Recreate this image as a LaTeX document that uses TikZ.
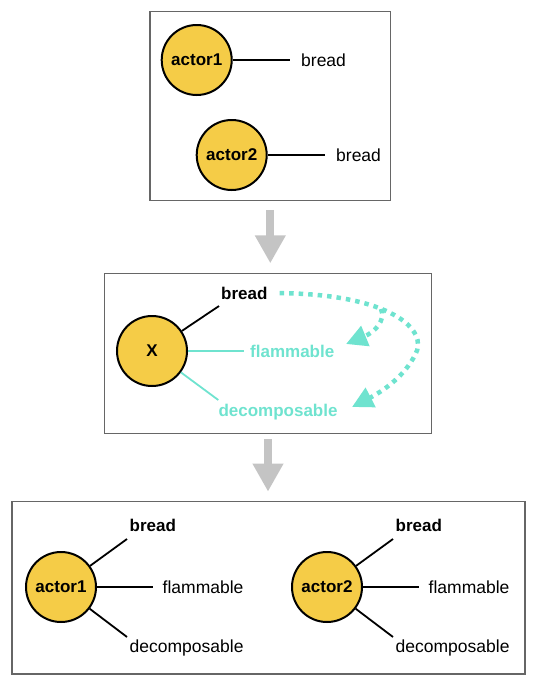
\documentclass[tikz,border=0pt]{standalone}
\usepackage{fontspec}
\setmainfont{Liberation Sans}
\usetikzlibrary{arrows.meta}
\definecolor{bun}{HTML}{F5CC47}
\definecolor{mint}{HTML}{6FE3CF}
\definecolor{shade}{HTML}{C4C4C4}

\begin{document}
\begin{tikzpicture}[x=1pt,y=-1pt,
    frame/.style={draw=black!60, line width=1.3pt},
    actor/.style={circle, draw, line width=2pt, fill=bun, minimum size=70pt, inner sep=0pt, font=\bfseries\fontsize{17}{20}\selectfont},
    word/.style={font=\fontsize{17.5}{20}\selectfont},
    heavy/.style={font=\bfseries\fontsize{17}{20}\selectfont},
    tagup/.style={anchor=south west, inner xsep=2.5pt, inner ysep=7pt},
    tagside/.style={anchor=west, inner xsep=9.5pt},
    tagdown/.style={anchor=north west, inner xsep=2.5pt, inner ysep=2.5pt},
    link/.style={line width=1.8pt},
    flow/.style={draw=shade, line width=8pt, -{Triangle[length=28pt,width=29pt]}},
    dots/.style={draw=mint, line width=4.5pt, dash pattern=on 4.5pt off 5pt, -{Triangle[length=21pt,width=21pt]}}]
    \useasboundingbox (0,0) rectangle (536,678);
    % Three frames
    \node[frame, minimum width=240.7pt, minimum height=189pt] (top) at (270.3,106.2) {};
    \node[frame, minimum width=327.4pt, minimum height=160.2pt] (mid) at (268,353.4) {};
    \node[frame, minimum width=513pt, minimum height=172.4pt] (bot) at (268.5,587.7) {};
    % Gray arrows between frames
    \draw[flow, shorten <=8.6pt, shorten >=9.3pt] (top.south) -- (top.south |- mid.north);
    \draw[flow, shorten <=4.8pt, shorten >=9.2pt] (mid.south) -- (mid.south |- bot.north);
    % Top: two actors, each with bread
    \node[actor] (a1) at (196.7,60) {actor1};
    \node[word, tagside, inner xsep=11pt] (a1b) at (290,60) {bread};
    \node[actor] (a2) at (231.7,155) {actor2};
    \node[word, tagside, inner xsep=11pt] (a2b) at (325,155) {bread};
    \draw[link] (a1) -- (a1b.west);
    \draw[link] (a2) -- (a2b.west);
    % Middle: X with bread, flammable, decomposable
    \node[actor] (x) at (152,351) {X};
    \node[heavy, tagup, inner xsep=2pt, inner ysep=6.5pt] (xb) at (219,306) {bread};
    \node[heavy, tagside, inner xsep=6pt, text=mint] (xf) at (244,351) {flammable};
    \node[heavy, tagdown, inner xsep=0pt, inner ysep=4pt, text=mint] (xd) at (218.3,400) {decomposable};
    \draw[link] (x) -- (xb.south west);
    \draw[link, mint] (x) -- (xf.west);
    \draw[link, mint] (x) -- (xd.north west);
    % Dotted teal arrows from bread
    \coordinate (fork) at (381,309);
    \coordinate (tipF) at (346,344);
    \coordinate (tipD) at (352,407);
    \draw[dots, shorten <=10pt] (xb.east) .. controls (390,294) and (430,330) .. (415,355)
        .. controls (405,375) and (385,390) .. (tipD);
    \draw[dots] (fork) .. controls (386,320) and (375,332) .. (tipF);
    % Bottom: both actors with all three
    \foreach \n/\x in {1/61, 2/327} {
        \node[actor] (p\n) at (\x,587) {actor\n};
        \node[heavy, tagup] (p\n b) at (\x+66,539) {bread};
        \node[word, tagside] (p\n f) at (\x+92,587) {flammable};
        \node[word, tagdown] (p\n d) at (\x+66,637) {decomposable};
        \draw[link] (p\n) -- (p\n b.south west);
        \draw[link] (p\n) -- (p\n f.west);
        \draw[link] (p\n) -- (p\n d.north west);
    }
\end{tikzpicture}
\end{document}
